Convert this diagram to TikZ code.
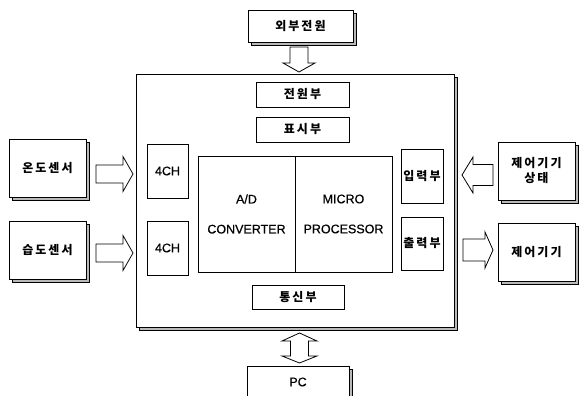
\documentclass[tikz,border=0pt]{standalone}
\usepackage{fontspec}
\setmainfont{Liberation Sans}[FakeBold=0.6]
\newfontfamily\krfont{Noto Sans CJK KR}
\usetikzlibrary{shadows}
\newcommand\ksp{\hspace{2pt}}
\tikzset{
  blk/.style={draw=black, fill=white, line width=0.8pt, inner sep=0pt,
    font=\fontsize{12.5}{30}\selectfont, align=center},
  kr/.style={font=\krfont\bfseries\fontsize{12}{15}\selectfont},
  shad/.style={blk, drop shadow={shadow xshift=3.5pt, shadow yshift=-3.5pt,
    fill=gray!55, draw=black, line width=0.6pt, opacity=1}},
  barrow/.style={draw=black, fill=white, line width=0.8pt, line join=miter},
}
\begin{document}
\begin{tikzpicture}[x=1pt,y=-1pt]
\useasboundingbox (0,0) rectangle (579,396);
% main frame
\node[shad, minimum width=318pt, minimum height=253pt] (main) at (295,200.5) {};
% outer boxes
\node[shad, kr, minimum width=105pt, minimum height=32pt] (ext) at (300.5,26) {외\ksp 부\ksp 전\ksp 원};
\node[shad, kr, minimum width=77pt, minimum height=58pt] (temp) at (47.5,168) {온\ksp 도\ksp 센\ksp 서};
\node[shad, kr, minimum width=77pt, minimum height=58pt] (hum) at (47.5,250) {습\ksp 도\ksp 센\ksp 서};
\node[shad, kr, minimum width=77pt, minimum height=58pt] (ctls) at (536.5,171) {제\ksp 어\ksp 기\ksp 기\\상\ksp 태};
\node[shad, kr, minimum width=77pt, minimum height=58pt] (ctl) at (536.5,252) {제\ksp 어\ksp 기\ksp 기};
\node[shad, minimum width=102pt, minimum height=32pt] (pc) at (298,382) {PC};
% inner boxes
\node[blk, kr, minimum width=93pt, minimum height=25pt] (pwr) at (302.5,94.5) {전\ksp 원\ksp 부};
\node[blk, kr, minimum width=93pt, minimum height=25pt] (disp) at (302.5,129.5) {표\ksp 시\ksp 부};
\node[blk, minimum width=41pt, minimum height=54pt] (ch1) at (167.5,171) {4CH};
\node[blk, minimum width=41pt, minimum height=54pt] (ch2) at (167.5,248) {4CH};
\node[blk, minimum width=97pt, minimum height=116pt] (adc) at (246.5,214) {A/D\\CONVERTER};
\node[blk, minimum width=97pt, minimum height=116pt] (mcu) at (343.5,214) {MICRO\\PROCESSOR};
\node[blk, kr, minimum width=42pt, minimum height=54pt] (inp) at (422,176) {입\ksp 력\ksp 부};
\node[blk, kr, minimum width=42pt, minimum height=53pt] (outp) at (422,243.5) {출\ksp 력\ksp 부};
\node[blk, kr, minimum width=92pt, minimum height=24pt] (comm) at (298,297) {통\ksp 신\ksp 부};
% block arrows
\draw[barrow] (290,47) -- (308,47) -- (308,63) -- (315,63) -- (299,72) -- (283,63) -- (290,63) -- cycle;
\draw[barrow] (96,165) -- (123,165) -- (123,156.5) -- (133,174) -- (123,191.5) -- (123,183) -- (96,183) -- cycle;
\draw[barrow] (96,244) -- (123,244) -- (123,235.5) -- (133,253) -- (123,270.5) -- (123,262) -- (96,262) -- cycle;
\draw[barrow] (493,164.5) -- (473,164.5) -- (473,157) -- (462,175) -- (473,193) -- (473,185.5) -- (493,185.5) -- cycle;
\draw[barrow] (463,239) -- (485,239) -- (485,232) -- (493,250) -- (485,268) -- (485,261) -- (463,261) -- cycle;
\draw[barrow] (290.5,341) -- (282,341) -- (299.5,333) -- (317,341) -- (308.5,341) -- (308.5,356) -- (317,356) -- (299.5,363) -- (282,356) -- (290.5,356) -- cycle;
\end{tikzpicture}
\end{document}
